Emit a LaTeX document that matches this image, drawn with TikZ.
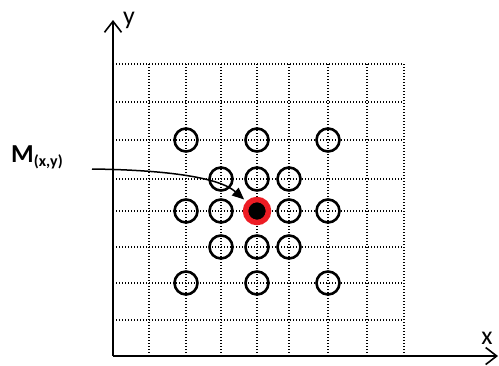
\documentclass[tikz,border=0pt]{standalone}
\usepackage{fontspec}
\setmainfont{Carlito}
\usepackage{tikz}
\usetikzlibrary{positioning,arrows.meta,calc}
\definecolor{markred}{RGB}{237,28,36}

\begin{document}
\begin{tikzpicture}[x=1bp, y=-1bp,
  grid/.style={line width=1.2bp, dash pattern=on 1.2bp off 1.8bp, color=black},
  axis/.style={line width=2bp, -{Straight Barb[length=11bp, width=17bp, line width=1.6bp]}},
  ring/.style={circle, draw, line width=2.6bp, minimum size=23bp, inner sep=0pt},
  target/.style={circle, draw=markred, fill=black, line width=5.5bp, minimum size=23bp, inner sep=0pt},
  pointer/.style={line width=1.5bp, -{Triangle[length=12bp, width=10bp]}, shorten >=3bp}
]
  \useasboundingbox (0,0) rectangle (499,365);

  % dotted grid
  \foreach \gx in {113,149,186,221,257,289,328,367,404}
    \draw[grid] (\gx,64) -- (\gx,356);
  \foreach \gy in {64,102,140,179,211,247,283,320}
    \draw[grid] (113,\gy) -- (404,\gy);

  % axes
  \coordinate (O) at (113,356);
  \coordinate (Xend) at (498,356);
  \coordinate (Yend) at (113,20);
  \draw[axis] (O) -- (Xend);
  \draw[axis] (O) -- (Yend);
  \node[font=\fontsize{26}{26}\selectfont, inner sep=0pt] (xlab) at (487,338) {x};
  \node[font=\fontsize{26}{26}\selectfont, inner sep=0pt] (ylab) at (129,20) {y};

  % neighbour pixels
  \foreach \px/\py/\name in {186/140/a1, 257/140/a2, 328/140/a3,
                             221/179/b1, 257/179/b2, 289/179/b3,
                             186/211/c1, 221/211/c2, 289/211/c4, 328/211/c5,
                             221/247/d1, 257/247/d2, 289/247/d3,
                             186/283/e1, 257/283/e2, 328/283/e3}
    \node[ring] (\name) at (\px,\py) {};

  % centre point
  \node[target] (M) at (257,211) {};

  % label and pointer
  \node[font=\bfseries\fontsize{26}{26}\selectfont, inner sep=0pt, anchor=west] (Mlab) at (11,157)
    {M\raisebox{-4bp}{\fontsize{16}{16}\selectfont (x,y)}};
  \coordinate (Mstart) at (92,169);
  \draw[pointer] (Mstart) .. controls (170,170) and (220,178) .. (M);
\end{tikzpicture}
\end{document}
